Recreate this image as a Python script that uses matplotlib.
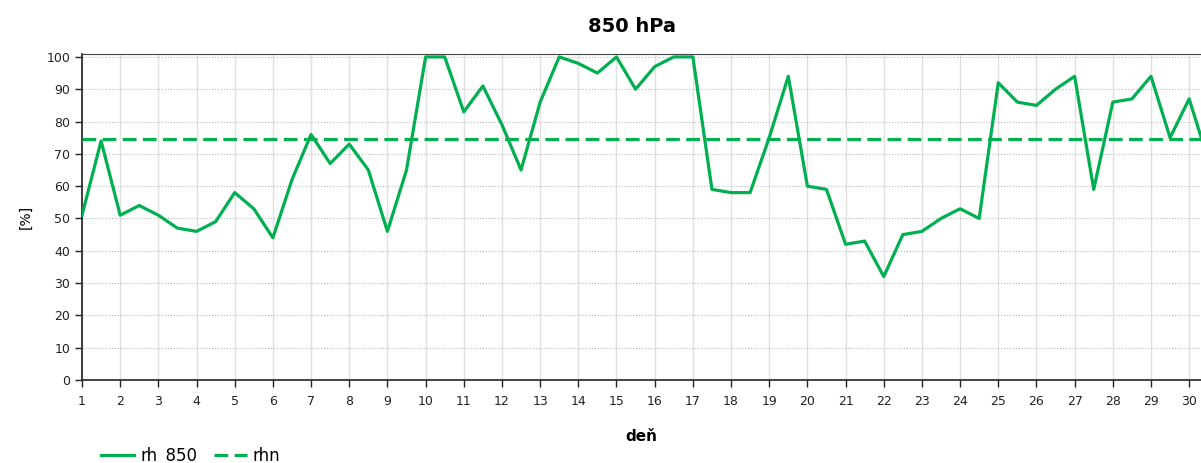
import numpy as np
import matplotlib.pyplot as plt

# day of month, twice a day (00 and 12 UTC)
days = np.arange(1, 31, 0.5)
rh_850 = [51, 74, 51, 54, 51, 47, 46, 49, 58, 53,
          44, 62, 76, 67, 73, 65, 46, 65, 100, 100,
          83, 91, 79, 65, 86, 100, 98, 95, 100, 90,
          97, 100, 100, 59, 58, 58, 75, 94, 60, 59,
          42, 43, 32, 45, 46, 50, 53, 50, 92, 86,
          85, 90, 94, 59, 86, 87, 94, 75, 87, 68]
rhn = 74.5
day_ticks = list(range(1, 31))
green = '#00b050'

fig = plt.figure(figsize=(12.01, 4.63), dpi=100)
ax = fig.add_axes([82/1201, 83/463, 1 - 82/1201, (380-54)/463])

ax.plot(days, rh_850, color=green, lw=2.3, label='rh_850', zorder=3)
ax.plot([1, 30.5], [rhn, rhn], color=green, lw=2.3, dashes=(4.3, 2),
        label='rhn', zorder=3)

ax.set_xlim(1, 30.31)
ax.set_ylim(0, 100.9)
ax.set_xticks(day_ticks)
ax.set_yticks(range(0, 101, 10))
ax.tick_params(labelsize=9, colors='#222222', length=5, width=1)
ax.tick_params(axis='x', pad=6)

ax.grid(axis='x', color='#e0e0e0', lw=1, ls='-')
ax.grid(axis='y', color='#bbbbbb', lw=0.8, ls=':')
ax.set_axisbelow(True)

for s in ['left', 'bottom']:
    ax.spines[s].set_color('#222222')
    ax.spines[s].set_linewidth(1.2)
ax.spines['top'].set_color('#444444')
ax.spines['right'].set_visible(False)

fig.text(632/1201, 1 - 27/463, '850 hPa', fontsize=14, fontweight='bold',
         ha='center', va='center')
ax.set_xlabel('deň', fontsize=11, fontweight='bold', labelpad=15)
ax.set_ylabel('[%]', fontsize=10, labelpad=10)

fig.legend(loc='lower left', bbox_to_anchor=(86/1201, -17/463), ncol=2,
           frameon=False, fontsize=12, handlelength=2.0, columnspacing=1.0,
           handletextpad=0.35)

fig.savefig('out.png', dpi=100)
